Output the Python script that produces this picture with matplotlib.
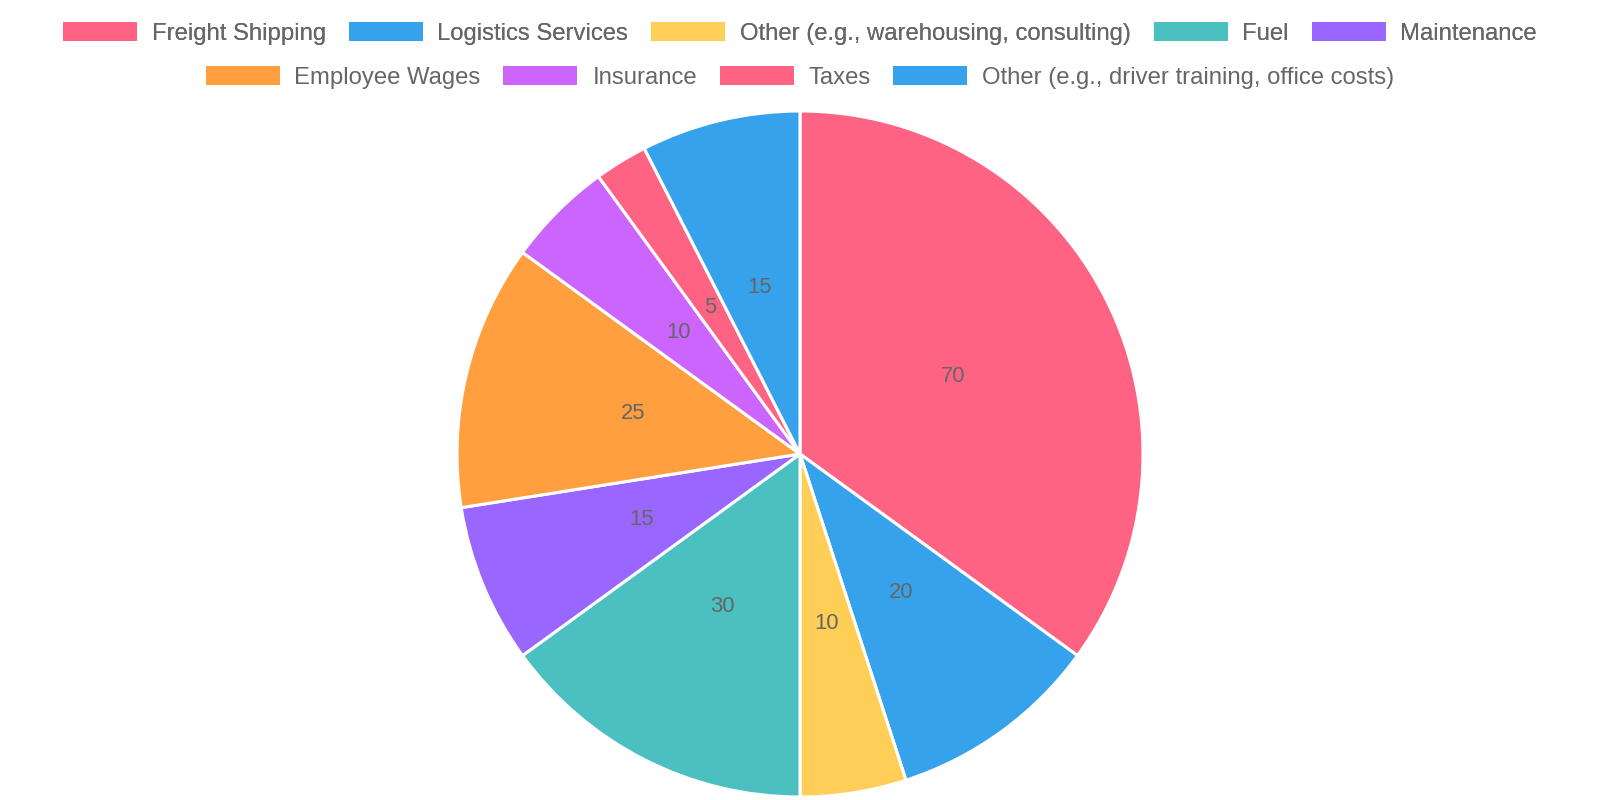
import matplotlib
matplotlib.use("Agg")
import matplotlib.pyplot as plt
from matplotlib.patches import Patch

plt.rcParams['font.family'] = ['Liberation Sans', 'DejaVu Sans']

labels = ['Freight Shipping', 'Logistics Services', 'Other (e.g., warehousing, consulting)',
          'Fuel', 'Maintenance', 'Employee Wages', 'Insurance', 'Taxes',
          'Other (e.g., driver training, office costs)']
values = [70, 20, 10, 30, 15, 25, 10, 5, 15]
colors = ['#FF6384', '#36A2EB', '#FFCE56', '#4BC0C0', '#9966FF',
          '#FF9F40', '#CC65FE', '#FF6384', '#36A2EB']

total = sum(values)
text_color = '#666666'

fig = plt.figure(figsize=(16, 8), dpi=100)

# pie centred at (800, 454) px, radius ~343 px
cx, cy, r = 800, 454, 343
ax = fig.add_axes([(cx - r) / 1600, (800 - cy - r) / 800, 2 * r / 1600, 2 * r / 800])
wedges, texts, autotexts = ax.pie(
    values, colors=colors, startangle=90, counterclock=False,
    autopct=lambda p: f'{p * total / 100:.0f}', pctdistance=0.5,
    wedgeprops=dict(edgecolor='white', linewidth=2.2),
    textprops=dict(color=text_color, fontsize=15.8))
ax.set_xlim(-1, 1)
ax.set_ylim(-1, 1)
ax.set_aspect('equal')
for w in wedges:
    w.set_clip_on(False)

handles = [Patch(facecolor=c, edgecolor='none') for c in colors]
common = dict(frameon=False, fontsize=17.2, handlelength=3.1, handleheight=0.85,
              handletextpad=0.62, columnspacing=0.95, labelcolor=text_color,
              borderpad=0, borderaxespad=0)
leg1 = fig.legend(handles[:5], labels[:5], ncol=5, loc='center',
                  bbox_to_anchor=(0.5, 1 - 33.5 / 800), **common)
fig.add_artist(leg1)
fig.legend(handles[5:], labels[5:], ncol=4, loc='center',
           bbox_to_anchor=(0.5, 1 - 77.5 / 800), **common)

fig.savefig('out.png', dpi=100)
